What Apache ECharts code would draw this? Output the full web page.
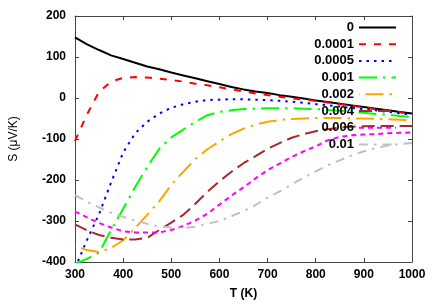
<!DOCTYPE html>
<html>
<head>
<meta charset="utf-8">
<script src="https://cdn.jsdelivr.net/npm/echarts@6/dist/echarts.min.js"></script>
<style>
html,body{margin:0;padding:0;background:#fff;}
#chart{width:436px;height:305px;}
</style>
</head>
<body>
<div id="chart"></div>
<script>
// Temperature grid (K)
var temps = [300,325,350,375,400,425,450,475,500,525,550,575,600,625,650,675,700,725,750,775,800,825,850,875,900,925,950,975,1000];

// Seebeck coefficient S (uV/K) for each doping level
var s0      = [148,131,117,104,95,86,77,70,62,55,48,41,34,27,21,16,12,7,3,-1,-6,-10,-14,-18,-22,-26,-30,-34,-38];
var s0001   = [-105,-40,15,40,49,51,50,47,44,40,35,31,26,21,16,11,7,3,-1,-4,-7,-11,-15,-19,-23,-27,-31,-35,-40];
var s0005   = [-415,-346,-283,-206,-133,-86,-58,-38,-24,-15,-9,-5,-4,-3,-3,-4,-5,-7,-9,-12,-15,-18,-21,-24,-27,-30,-34,-37,-41];
var s001    = [-405,-392,-377,-322,-270,-217,-168,-124,-96,-77,-58,-42,-34,-30,-27,-26,-25,-25,-25,-26,-27,-29,-31,-33,-36,-39,-41,-44,-46];
var s002    = [-362,-371,-376,-366,-347,-317,-285,-252,-212,-180,-149,-125,-106,-88,-75,-65,-58,-54,-51,-50,-49,-49,-49,-50,-50,-51,-52,-53,-55];
var s004    = [-308,-323,-334,-341,-345,-345,-341,-322,-304,-285,-258,-229,-203,-180,-159,-142,-124,-110,-97,-88,-81,-76,-72,-70,-69,-68,-68,-68,-68];
var s006    = [-277,-291,-305,-316,-325,-328,-328,-328,-322,-312,-299,-282,-260,-238,-218,-196,-176,-160,-144,-130,-118,-103,-95,-91,-89,-88,-86,-85,-84];
var s01     = [-237,-253,-267,-280,-290,-299,-307,-313,-316,-317,-314,-307,-300,-288,-276,-261,-243,-228,-211,-194,-179,-164,-152,-140,-130,-122,-116,-112,-110];

var seriesNames = ['0','0.0001','0.0005','0.001','0.002','0.004','0.006','0.01'];
var seriesValues = [s0,s0001,s0005,s001,s002,s004,s006,s01];
var seriesColors = ['#000000','#ff0000','#0000ff','#00ff00','#ffa500','#a52a2a','#ff00ff','#c0c0c0'];
var seriesDash = ['solid',[7,8],[2.5,5],[18,6,2.5,6],[18,6,2.5,6],[13,6],[5,4],[9,6,2.5,6]];
var seriesDashOffset = [0,0,0,0,26,0,0,0];

var xTicks = {min:300, max:1000, step:100};
var yTicks = {min:-400, max:200, step:100};

var FONT = 'Liberation Sans, Arial, sans-serif';

var series = seriesNames.map(function(name, i){
  return {
    name: name,
    type: 'line',
    data: temps.map(function(t, j){ return [t, seriesValues[i][j]]; }),
    symbol: 'none',
    showSymbol: false,
    smooth: false,
    clip: true,
    animation: false,
    lineStyle: {color: seriesColors[i], width: 2, type: seriesDash[i], dashOffset: seriesDashOffset[i]},
    itemStyle: {color: seriesColors[i]}
  };
});

var axisLineStyle = {color:'#444', width:1};
function plain(v){ return String(v); }

var option = {
  animation: false,
  backgroundColor: '#fff',
  grid: {left:66, right:24, top:16, bottom:43, containLabel:false},
  legend: {
    orient: 'vertical',
    right: 39,
    top: 21,
    align: 'right',
    padding: 0,
    itemWidth: 37,
    itemHeight: 14,
    itemGap: 3.7,
    itemStyle: {opacity: 0},
    textStyle: {fontFamily: FONT, fontWeight: 'bold', fontSize: 13, color: '#000'},
    data: seriesNames
  },
  xAxis: [{
    type: 'value', min: xTicks.min, max: xTicks.max, interval: xTicks.step,
    position: 'bottom',
    name: 'T (K)', nameLocation: 'middle', nameGap: 26,
    nameTextStyle: {fontFamily: FONT, fontWeight: 'bold', fontSize: 12, color:'#000'},
    axisLine: {show:true, onZero:false, lineStyle: axisLineStyle},
    axisTick: {show:true, inside:true, length:4, lineStyle: axisLineStyle},
    axisLabel: {margin: 7, formatter: plain, fontFamily: FONT, fontWeight:'bold', fontSize:12, color:'#000'},
    splitLine: {show:false}
  },{
    type: 'value', min: xTicks.min, max: xTicks.max, interval: xTicks.step,
    position: 'top',
    axisLine: {show:true, onZero:false, lineStyle: axisLineStyle},
    axisTick: {show:true, inside:true, length:4, lineStyle: axisLineStyle},
    axisLabel: {show:false},
    splitLine: {show:false}
  }],
  yAxis: [{
    type: 'value', min: yTicks.min, max: yTicks.max, interval: yTicks.step,
    position: 'left',
    name: 'S (\u03bcV/K)', nameLocation: 'middle', nameGap: 55, nameRotate: 90,
    nameTextStyle: {fontFamily: FONT, fontSize: 12, color:'#000'},
    axisLine: {show:true, onZero:false, lineStyle: axisLineStyle},
    axisTick: {show:true, inside:true, length:4, lineStyle: axisLineStyle},
    axisLabel: {margin: 9, formatter: plain, fontFamily: FONT, fontWeight:'bold', fontSize:12, color:'#000'},
    splitLine: {show:false}
  },{
    type: 'value', min: yTicks.min, max: yTicks.max, interval: yTicks.step,
    position: 'right',
    axisLine: {show:true, onZero:false, lineStyle: axisLineStyle},
    axisTick: {show:true, inside:true, length:4, lineStyle: axisLineStyle},
    axisLabel: {show:false},
    splitLine: {show:false}
  }],
  series: series
};

var chart = echarts.init(document.getElementById('chart'), null, {renderer:'canvas'});
chart.setOption(option);
</script>
</body>
</html>
